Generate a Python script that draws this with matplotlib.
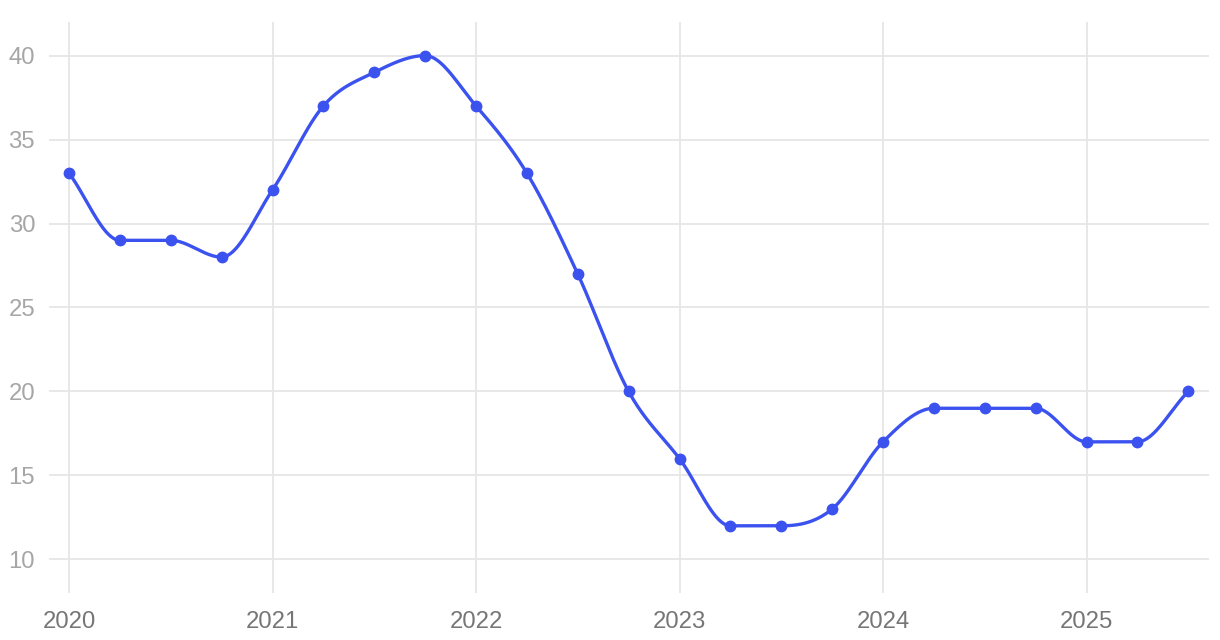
import numpy as np
import matplotlib
matplotlib.use("Agg")
import matplotlib.pyplot as plt

# Data (quarterly, 2020 Q1 .. 2025 Q3)
start_year = 2020
quarters = list(range(23))
values = [33, 29, 29, 28, 32, 37, 39, 40, 37, 33, 27, 20, 16, 12, 12, 13, 17, 19, 19, 19, 17, 17, 20]
year_ticks = [2020, 2021, 2022, 2023, 2024, 2025]
y_ticks = [10, 15, 20, 25, 30, 35, 40]

x = np.array([start_year + q / 4 for q in quarters], dtype=float)
y = np.array(values, dtype=float)


def monotone_curve(x, y, n=40):
    # Chart.js style monotone cubic (Fritsch-Carlson)
    N = len(x)
    dx = np.diff(x)
    d = np.diff(y) / dx
    m = np.zeros(N)
    m[0] = d[0]
    m[-1] = d[-1]
    for i in range(1, N - 1):
        if d[i - 1] == 0 or d[i] == 0 or np.sign(d[i - 1]) != np.sign(d[i]):
            m[i] = 0
        else:
            m[i] = (d[i - 1] + d[i]) / 2
    for i in range(N - 1):
        if d[i] == 0:
            m[i] = 0
            m[i + 1] = 0
            continue
        a = m[i] / d[i]
        b = m[i + 1] / d[i]
        s = a * a + b * b
        if s > 9:
            t = 3 / np.sqrt(s)
            m[i] = t * a * d[i]
            m[i + 1] = t * b * d[i]
    xs, ys = [], []
    for i in range(N - 1):
        t = np.linspace(0, 1, n, endpoint=(i == N - 2))
        h = dx[i]
        h00 = 2 * t**3 - 3 * t**2 + 1
        h10 = t**3 - 2 * t**2 + t
        h01 = -2 * t**3 + 3 * t**2
        h11 = t**3 - t**2
        xs.append(x[i] + t * h)
        ys.append(h00 * y[i] + h10 * h * m[i] + h01 * y[i + 1] + h11 * h * m[i + 1])
    return np.concatenate(xs), np.concatenate(ys)


plt.rcParams['font.family'] = ['Liberation Sans', 'DejaVu Sans']

fig = plt.figure(figsize=(12.2, 6.4), dpi=100)
ax = fig.add_axes([49 / 1220, 1 - 593 / 640, (1209 - 49) / 1220, (593 - 22) / 640])

color = '#3b52ef'
cx, cy = monotone_curve(x, y)
ax.plot(cx, cy, color=color, lw=2.4, zorder=3, solid_capstyle='round')
ax.plot(x, y, 'o', color=color, ms=7.5, zorder=4)

ppy = 203.5
ax.set_xlim(start_year - 20 / ppy, start_year + 1140 / ppy)
ax.set_ylim(8.0, 42.0)
ax.set_xticks(year_ticks)
ax.set_xticklabels([str(t) for t in year_ticks])
ax.set_yticks(y_ticks)
ax.set_yticklabels([str(t) for t in y_ticks])

for s in ax.spines.values():
    s.set_visible(False)
ax.grid(True, color='#e6e6e6', lw=1.3)
ax.set_axisbelow(True)
ax.tick_params(axis='both', length=0)
ax.tick_params(axis='x', labelsize=17.2, labelcolor='#767676', pad=13)
ax.tick_params(axis='y', labelsize=17.2, labelcolor='#a6a6a6', pad=10)

fig.savefig('out.png', dpi=100, facecolor='white')
